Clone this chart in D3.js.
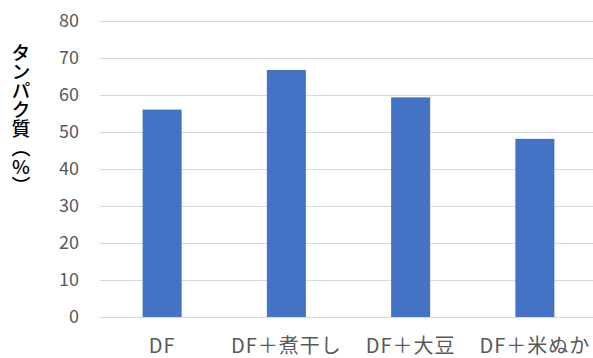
<!DOCTYPE html>
<html>
<head>
<meta charset="utf-8">
<script src="https://cdn.jsdelivr.net/npm/d3@7"></script>
<style>
  html, body { margin: 0; padding: 0; background: #fff; }
  svg { display: block; }
</style>
</head>
<body>
<svg id="chart" width="593" height="358"></svg>
<script>
// Protein content by feed mixture
const categories = ["DF", "DF＋煮干し", "DF＋大豆", "DF＋米ぬか"];
const values = [56, 66.7, 59.3, 48.1];
const yTicks = [0, 10, 20, 30, 40, 50, 60, 70, 80];
const yTitle = "タンパク質（%）";

const svg = d3.select("#chart");
const W = 593, H = 358;
const plot = { left: 100, right: 597, top: 20.7, bottom: 317 };

const x = d3.scaleBand()
  .domain(categories)
  .range([plot.left, plot.right])
  .paddingInner(0.686)
  .paddingOuter(0.343);

const y = d3.scaleLinear()
  .domain([0, 80])
  .range([plot.bottom, plot.top]);

const font = "'Noto Sans CJK JP', 'Noto Sans', sans-serif";

// horizontal gridlines
svg.append("g")
  .selectAll("line")
  .data(yTicks)
  .join("line")
  .attr("x1", plot.left)
  .attr("x2", W)
  .attr("y1", d => Math.round(y(d)) + 0.5)
  .attr("y2", d => Math.round(y(d)) + 0.5)
  .attr("stroke", "#d9d9d9")
  .attr("stroke-width", 1);

// y tick labels
svg.append("g")
  .selectAll("text")
  .data(yTicks)
  .join("text")
  .attr("x", 79)
  .attr("y", d => y(d))
  .attr("dy", "0.35em")
  .attr("text-anchor", "end")
  .attr("font-family", font)
  .attr("font-size", 18)
  .attr("fill", "#595959")
  .text(d => d);

// bars
svg.append("g")
  .selectAll("rect")
  .data(values)
  .join("rect")
  .attr("x", (d, i) => x(categories[i]))
  .attr("y", d => y(d))
  .attr("width", x.bandwidth())
  .attr("height", d => y(0) - y(d))
  .attr("fill", "#4472c4");

// baseline
svg.append("line")
  .attr("x1", plot.left)
  .attr("x2", W)
  .attr("y1", Math.round(y(0)) + 0.5)
  .attr("y2", Math.round(y(0)) + 0.5)
  .attr("stroke", "#d9d9d9")
  .attr("stroke-width", 1);

// category labels
svg.append("g")
  .selectAll("text")
  .data(categories)
  .join("text")
  .attr("x", d => x(d) + x.bandwidth() / 2)
  .attr("y", 353)
  .attr("text-anchor", "middle")
  .attr("font-family", font)
  .attr("font-size", 20)
  .attr("letter-spacing", 1)
  .attr("fill", "#595959")
  .text(d => d);

// vertical axis title
svg.append("text")
  .attr("x", 21)
  .attr("y", 43)
  .attr("font-family", font)
  .attr("font-size", 19)
  .attr("font-weight", 500)
  .attr("fill", "#000")
  .style("writing-mode", "vertical-rl")
  .style("text-orientation", "upright")
  .text(yTitle);
</script>
</body>
</html>
